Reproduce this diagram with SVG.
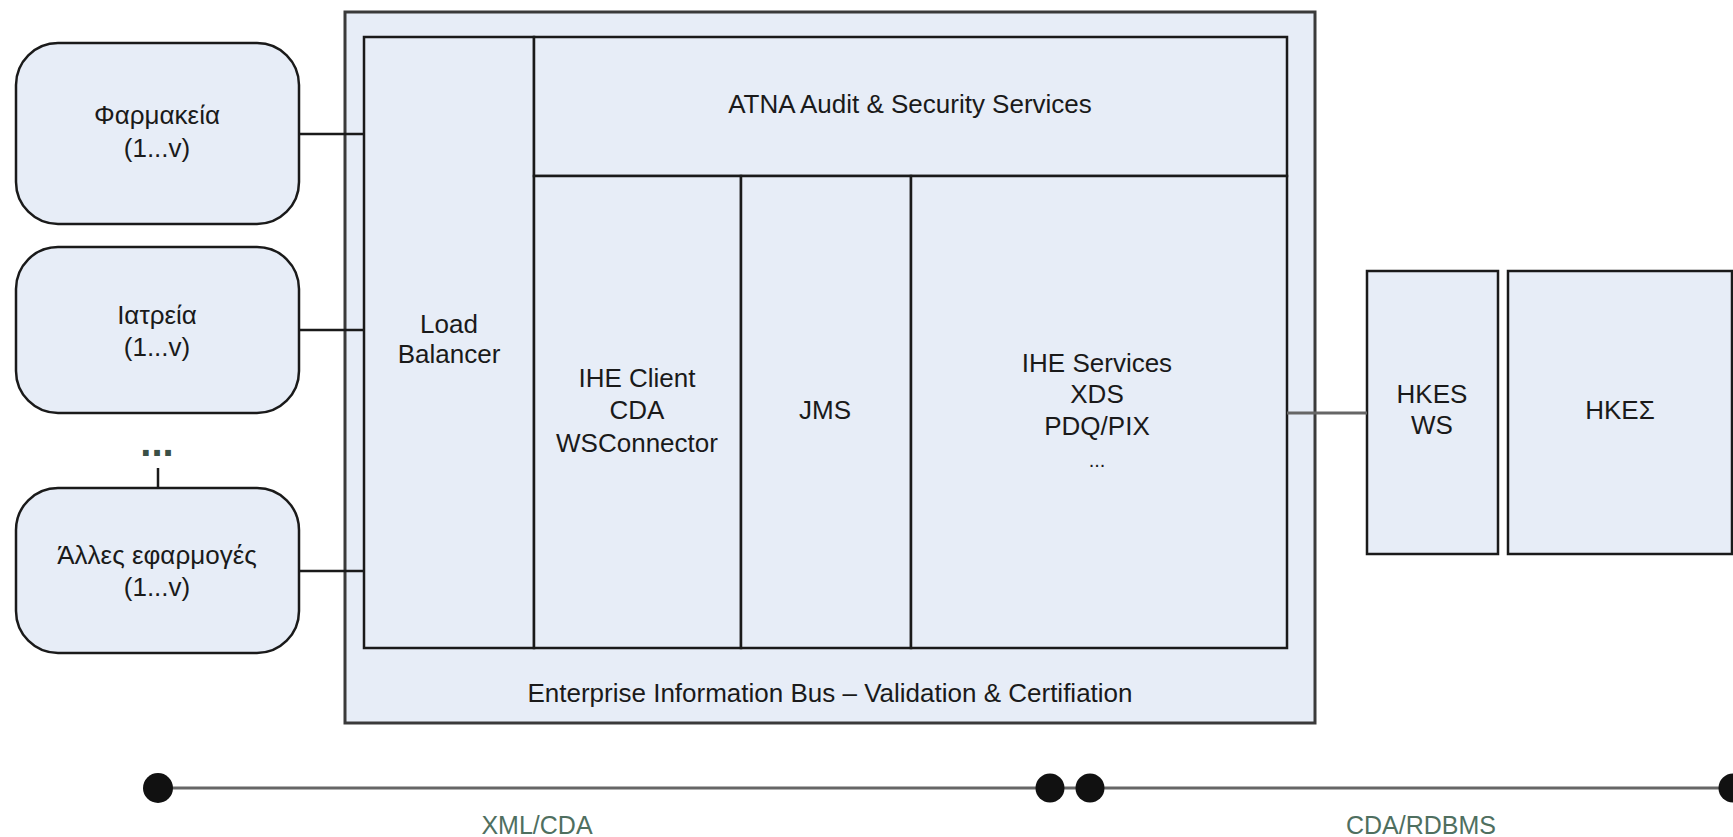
<svg xmlns="http://www.w3.org/2000/svg" width="1733" height="837" viewBox="0 0 1733 837">
<style>
  .box { fill: #e7edf7; stroke: #1a1a1a; stroke-width: 2.5; }
  .outer { fill: #e7edf7; stroke: #3a3a3a; stroke-width: 3; }
  .lbl { font-family: "Liberation Sans", Arial, sans-serif; font-size: 26px; fill: #1a1a1a; text-anchor: middle; }
  .proto { font-family: "Liberation Sans", Arial, sans-serif; font-size: 25px; fill: #4f6f5f; text-anchor: middle; }
  .wire { stroke: #1a1a1a; stroke-width: 2.5; fill: none; }
  .gwire { stroke: #666666; stroke-width: 3; fill: none; }
  .dot { fill: #111111; }
</style>
<rect width="1733" height="837" fill="#ffffff"/>

<g id="pharmacies">
  <rect class="box" x="16" y="43" width="283" height="181" rx="42" ry="42"/>
  <text class="lbl" x="157" y="124">Φαρμακεία</text>
  <text class="lbl" x="157" y="157">(1...v)</text>
</g>
<g id="clinics">
  <rect class="box" x="16" y="247" width="283" height="166" rx="42" ry="42"/>
  <text class="lbl" x="157" y="324">Ιατρεία</text>
  <text class="lbl" x="157" y="356">(1...v)</text>
</g>
<g id="more">
  <text x="157" y="456" font-family="'Liberation Sans', Arial, sans-serif" font-size="40" font-weight="bold" fill="#3b5046" text-anchor="middle">...</text>
</g>
<g id="other-apps">
  <rect class="box" x="16" y="488" width="283" height="165" rx="42" ry="42"/>
  <text class="lbl" x="157" y="564">Άλλες εφαρμογές</text>
  <text class="lbl" x="157" y="596">(1...v)</text>
</g>

<g id="eib">
  <rect class="outer" x="345" y="12" width="970" height="711"/>
  <text class="lbl" x="830" y="702">Enterprise Information Bus – Validation &amp; Certifiation</text>
</g>
<g id="load-balancer">
  <rect class="box" x="364" y="37" width="170" height="611"/>
  <text class="lbl" x="449" y="333">Load</text>
  <text class="lbl" x="449" y="363">Balancer</text>
</g>
<g id="atna">
  <rect class="box" x="534" y="37" width="753" height="139"/>
  <text class="lbl" x="910" y="113">ATNA Audit &amp; Security Services</text>
</g>
<g id="ihe-client">
  <rect class="box" x="534" y="176" width="207" height="472"/>
  <text class="lbl" x="637" y="387">IHE Client</text>
  <text class="lbl" x="637" y="419">CDA</text>
  <text class="lbl" x="637" y="452">WSConnector</text>
</g>
<g id="jms">
  <rect class="box" x="741" y="176" width="170" height="472"/>
  <text class="lbl" x="825" y="419">JMS</text>
</g>
<g id="ihe-services">
  <rect class="box" x="911" y="176" width="376" height="472"/>
  <text class="lbl" x="1097" y="372">IHE Services</text>
  <text class="lbl" x="1097" y="403">XDS</text>
  <text class="lbl" x="1097" y="435">PDQ/PIX</text>
  <text class="lbl" x="1097" y="467" style="font-size:20px">...</text>
</g>

<g id="hkes-ws">
  <rect class="box" x="1367" y="271" width="131" height="283"/>
  <text class="lbl" x="1432" y="403">HKES</text>
  <text class="lbl" x="1432" y="434">WS</text>
</g>
<g id="hkes">
  <rect class="box" x="1508" y="271" width="224" height="283"/>
  <text class="lbl" x="1620" y="419">HKEΣ</text>
</g>

<g id="connectors">
  <line class="wire" x1="299" y1="134" x2="364" y2="134"/>
  <line class="wire" x1="299" y1="330" x2="364" y2="330"/>
  <line class="wire" x1="299" y1="571" x2="364" y2="571"/>
  <line class="wire" x1="158" y1="468" x2="158" y2="488"/>
  <line class="gwire" x1="1287" y1="413" x2="1367" y2="413"/>
  <line class="gwire" x1="158" y1="788" x2="1733" y2="788"/>
</g>

<g id="timeline">
  <circle class="dot" cx="158" cy="788" r="15"/>
  <circle class="dot" cx="1050" cy="788" r="14.5"/>
  <circle class="dot" cx="1090" cy="788" r="14.5"/>
  <circle class="dot" cx="1733" cy="788" r="14.5"/>
  <text class="proto" x="537" y="834">XML/CDA</text>
  <text class="proto" x="1421" y="834">CDA/RDBMS</text>
</g>
</svg>
